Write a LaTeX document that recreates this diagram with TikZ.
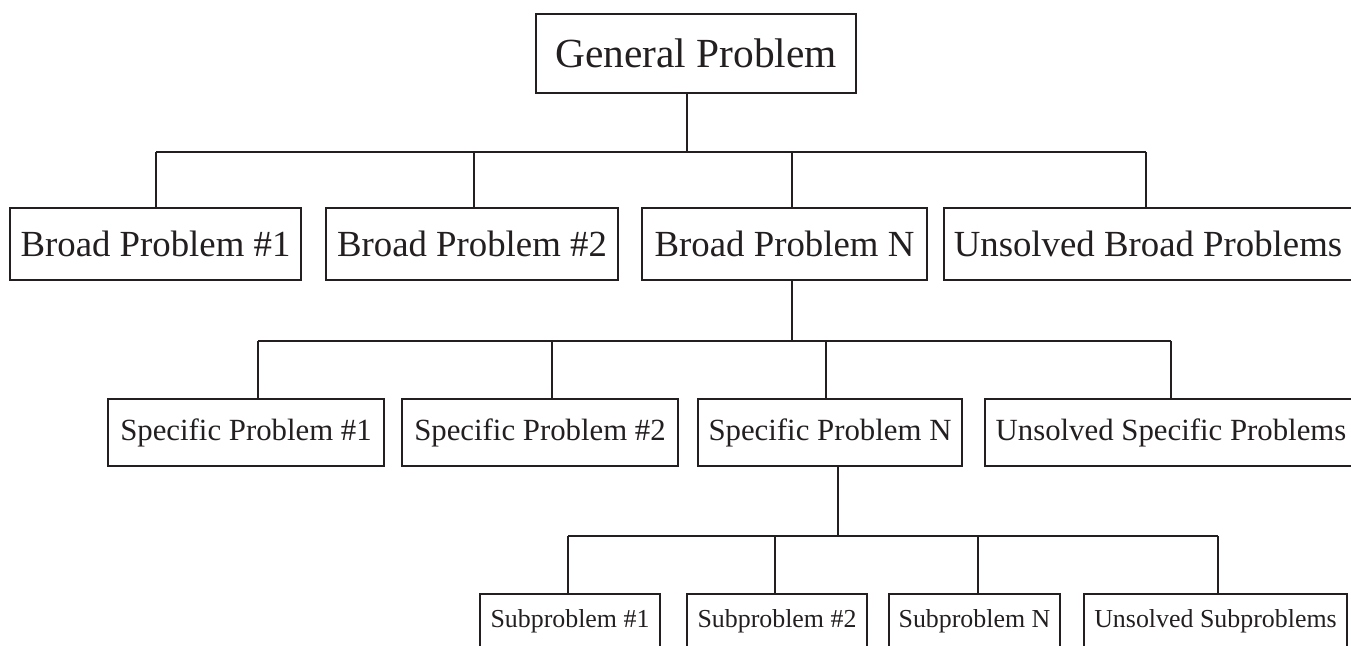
\documentclass[tikz,border=0pt]{standalone}
\usepackage{fontspec}
\setmainfont{Liberation Serif}
\usetikzlibrary{calc}

\definecolor{ink}{HTML}{231F20}
\tikzset{
  box/.style={draw=ink, line width=1.35pt, inner sep=0pt, text=ink},
  link/.style={draw=ink, line width=1.35pt},
  topbox/.style={box, font=\fontsize{20.7}{24}\selectfont, minimum height=39.5pt},
  broadbox/.style={box, font=\fontsize{18.4}{22}\selectfont, minimum height=36pt},
  specbox/.style={box, font=\fontsize{15.4}{18}\selectfont, minimum height=33.5pt},
  subbox/.style={box, font=\fontsize{12.95}{15}\selectfont, minimum height=27pt},
}

\begin{document}
\begin{tikzpicture}[x=0.5pt,y=-0.5pt]
    \useasboundingbox (0,0) rectangle (1351,645);

    % root
    \node[topbox, minimum width=160pt] (gen) at (696,53.5) {General Problem};

    % broad problems
    \node[broadbox, minimum width=145.5pt] (b1) at (155.5,244) {Broad Problem \#1};
    \node[broadbox, minimum width=146pt]   (b2) at (472,244)   {Broad Problem \#2};
    \node[broadbox, minimum width=142.5pt] (b3) at (784.5,244) {Broad Problem N};
    \node[broadbox, minimum width=204pt]   (b4) at (1148,244)  {Unsolved Broad Problems};

    % specific problems
    \node[specbox, minimum width=138pt] (s1) at (246,432.5)  {Specific Problem \#1};
    \node[specbox, minimum width=138pt] (s2) at (540,432.5)  {Specific Problem \#2};
    \node[specbox, minimum width=132pt] (s3) at (830,432.5)  {Specific Problem N};
    \node[specbox, minimum width=186pt] (s4) at (1171,432.5) {Unsolved Specific Problems};

    % subproblems
    \node[subbox, minimum width=90pt]    (u1) at (570,621)    {Subproblem \#1};
    \node[subbox, minimum width=90pt]    (u2) at (777,621)    {Subproblem \#2};
    \node[subbox, minimum width=85.5pt]  (u3) at (974.5,621)  {Subproblem N};
    \node[subbox, minimum width=131.5pt] (u4) at (1215.5,621) {Unsolved Subproblems};

    % level 1 tree
    \coordinate (d0) at (687,152);
    \draw[link] (gen.south -| d0) -- (d0);
    \foreach \n/\x in {b1/156,b2/474,b3/792,b4/1146}{
      \coordinate (j\n) at (\x,152);
      \draw[link] (j\n) -- (j\n |- \n.north);
    }
    \draw[link] (jb1) -- (jb4);

    % level 2 tree
    \coordinate (d1) at (792,341);
    \draw[link] (b3.south -| d1) -- (d1);
    \foreach \n/\x in {s1/258,s2/552,s3/826,s4/1171}{
      \coordinate (j\n) at (\x,341);
      \draw[link] (j\n) -- (j\n |- \n.north);
    }
    \draw[link] (js1) -- (js4);

    % level 3 tree
    \coordinate (d2) at (838,536);
    \draw[link] (s3.south -| d2) -- (d2);
    \foreach \n/\x in {u1/568,u2/775,u3/978,u4/1218}{
      \coordinate (j\n) at (\x,536);
      \draw[link] (j\n) -- (j\n |- \n.north);
    }
    \draw[link] (ju1) -- (ju4);
\end{tikzpicture}
\end{document}
